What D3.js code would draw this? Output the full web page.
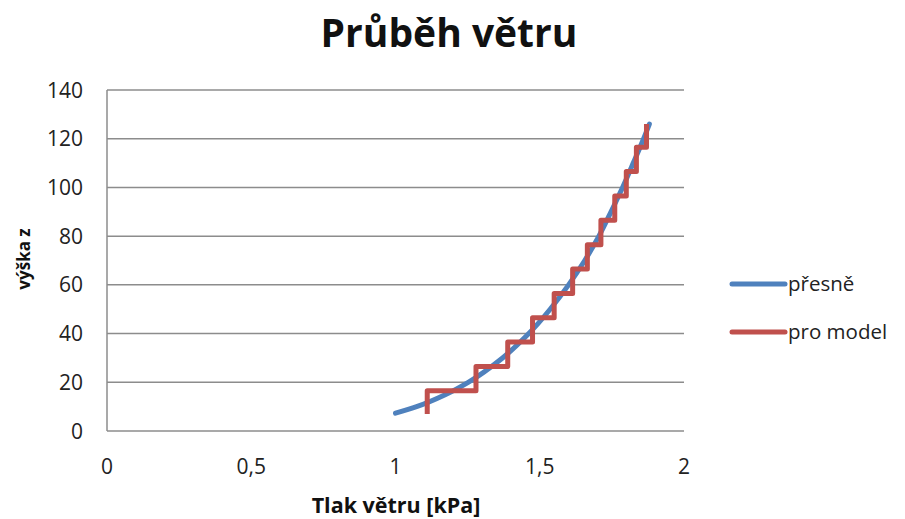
<!DOCTYPE html>
<html>
<head>
<meta charset="utf-8">
<script src="https://cdn.jsdelivr.net/npm/d3@7"></script>
<style>
  body { margin: 0; background: #fff; }
  text { font-family: "Open Sans", "Noto Sans", sans-serif; }
</style>
</head>
<body>
<div id="app"></div>
<script>
// exact profile: height z [m] and wind pressure [kPa]
const exactZ = [7.3, 10, 15, 20, 30, 40, 50, 60, 70, 80, 90, 100, 110, 120, 126];
const exactQ = [1.0, 1.073, 1.174, 1.252, 1.371, 1.462, 1.536, 1.6, 1.656, 1.705, 1.747, 1.787, 1.824, 1.86, 1.88];

// model: constant pressure per height band
const modelBounds = [7, 16.5, 26.5, 36.5, 46.5, 56.5, 66.5, 76.5, 86.5, 96.5, 106.5, 116.5, 126];
const modelQ = [1.11, 1.279, 1.389, 1.475, 1.55, 1.614, 1.665, 1.712, 1.76, 1.8, 1.835, 1.87];

const xTicks = [0, 0.5, 1, 1.5, 2];
const yTicks = [0, 20, 40, 60, 80, 100, 120, 140];

const seriesNames = ['přesně', 'pro model'];
const colors = ['#4f81bd', '#c0504d'];

const W = 905, H = 519;
const margin = { top: 90, right: 221, bottom: 88, left: 107 };

const svg = d3.select('#app')
  .append('svg')
  .attr('width', W)
  .attr('height', H);

const x = d3.scaleLinear().domain([0, 2]).range([margin.left, W - margin.right]);
const y = d3.scaleLinear().domain([0, 140]).range([H - margin.bottom, margin.top]);

// gridlines
svg.append('g')
  .selectAll('line')
  .data(yTicks)
  .join('line')
  .attr('x1', x(0))
  .attr('x2', x(2))
  .attr('y1', d => y(d))
  .attr('y2', d => y(d))
  .attr('stroke', '#8c8c8c')
  .attr('stroke-width', 1.5);

// left axis line
svg.append('line')
  .attr('x1', x(0)).attr('x2', x(0))
  .attr('y1', y(0)).attr('y2', y(140))
  .attr('stroke', '#8c8c8c')
  .attr('stroke-width', 1.5);

// tick labels
svg.append('g')
  .selectAll('text')
  .data(yTicks)
  .join('text')
  .attr('x', x(0) - 24)
  .attr('y', d => y(d))
  .attr('dy', '0.36em')
  .attr('text-anchor', 'end')
  .attr('font-size', 21)
  .attr('fill', '#222')
  .text(d => d);

svg.append('g')
  .selectAll('text')
  .data(xTicks)
  .join('text')
  .attr('x', d => x(d))
  .attr('y', 474)
  .attr('text-anchor', 'middle')
  .attr('font-size', 21)
  .attr('fill', '#222')
  .text(d => String(d).replace('.', ','));

// titles
svg.append('text')
  .attr('x', 449)
  .attr('y', 47)
  .attr('text-anchor', 'middle')
  .attr('font-size', 39)
  .attr('font-weight', 'bold')
  .attr('fill', '#111')
  .text('Průběh větru');

svg.append('text')
  .attr('x', 396)
  .attr('y', 513)
  .attr('text-anchor', 'middle')
  .attr('font-size', 21.5)
  .attr('font-weight', 'bold')
  .attr('fill', '#111')
  .text('Tlak větru [kPa]');

svg.append('text')
  .attr('transform', 'translate(30, 259) rotate(-90)')
  .attr('text-anchor', 'middle')
  .attr('font-size', 17)
  .attr('font-weight', 'bold')
  .attr('fill', '#111')
  .text('výška z');

// series
const line = d3.line().x(d => x(d[0])).y(d => y(d[1]));

const exactPts = exactZ.map((z, i) => [exactQ[i], z]);
const exactLine = d3.line().curve(d3.curveMonotoneY).x(d => x(d[0])).y(d => y(d[1]));

const modelPts = [];
modelQ.forEach((q, i) => {
  modelPts.push([q, modelBounds[i]]);
  modelPts.push([q, modelBounds[i + 1]]);
});

svg.append('path')
  .datum(exactPts)
  .attr('d', exactLine)
  .attr('fill', 'none')
  .attr('stroke', colors[0])
  .attr('stroke-width', 5)
  .attr('stroke-linecap', 'round');

svg.append('path')
  .datum(modelPts)
  .attr('d', line)
  .attr('fill', 'none')
  .attr('stroke', colors[1])
  .attr('stroke-width', 5)
  .attr('stroke-linejoin', 'round');

// legend
const legend = svg.append('g')
  .selectAll('g')
  .data(seriesNames)
  .join('g')
  .attr('transform', (d, i) => `translate(732, ${284 + i * 48})`);

legend.append('line')
  .attr('x1', 0).attr('x2', 53)
  .attr('stroke', (d, i) => colors[i])
  .attr('stroke-width', 5)
  .attr('stroke-linecap', 'round');

legend.append('text')
  .attr('x', 56)
  .attr('dy', '0.35em')
  .attr('font-size', 20.5)
  .attr('fill', '#222')
  .text(d => d);
</script>
</body>
</html>
